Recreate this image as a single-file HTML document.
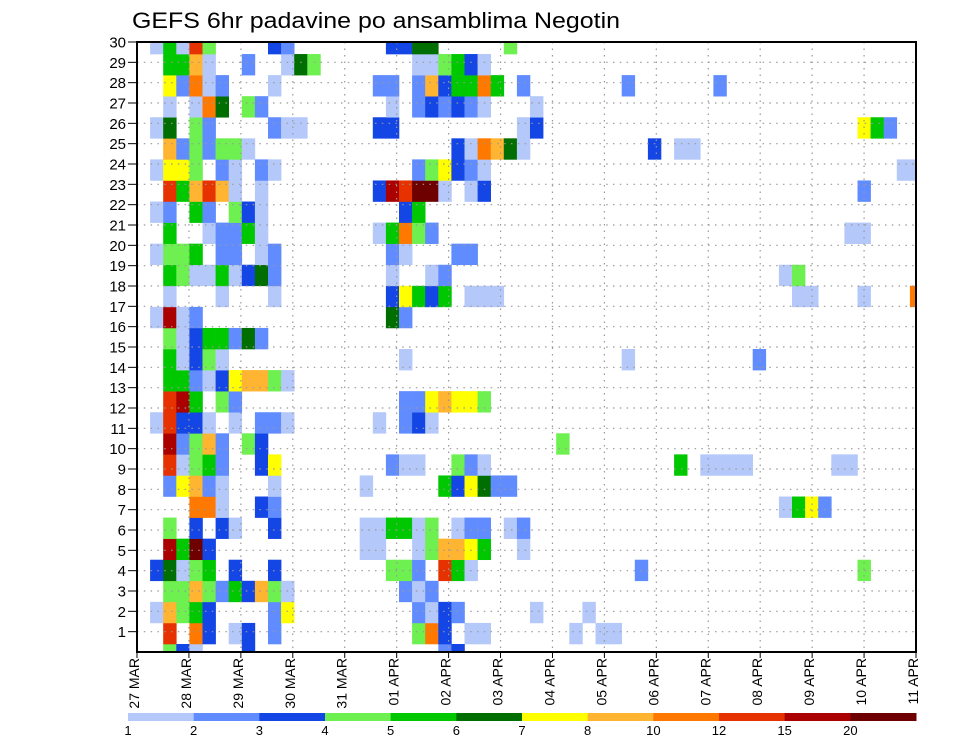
<!DOCTYPE html>
<html><head><meta charset="utf-8">
<style>
html,body{margin:0;padding:0;background:#fff;}
svg{display:block;}
text{font-family:"Liberation Sans",sans-serif;}
</style></head>
<body>
<svg id="chart" width="960" height="742" viewBox="0 0 960 742" xmlns="http://www.w3.org/2000/svg">
<text x="132" y="28" font-size="22" textLength="488" lengthAdjust="spacingAndGlyphs" fill="#000">GEFS 6hr padavine po ansamblima Negotin</text>
<g id="cells"></g>
<g id="grid"></g>
<g id="axes"></g>
<g id="cbar"></g>
</svg>
<script>
// ---- data ----
// rows: index 0 = bottom strip, 29 = top strip; entries "timeStep:levelCode"
const memberRows = [
"2:d 3:c 4:a 8:c 23:b 24:c",
"2:j 4:i 5:c 7:a 8:c 10:b 21:d 22:i 23:c 25:a 26:a 33:a 35:a 36:a",
"1:a 2:h 3:d 4:e 5:c 10:b 11:g 21:b 22:a 23:c 24:b 30:a 34:a",
"2:d 3:d 4:h 5:d 6:b 7:e 8:c 9:h 10:d 11:a 20:b 21:a 22:b",
"1:c 2:f 3:a 4:d 5:e 7:c 10:c 19:d 20:d 21:b 23:j 24:e 25:a 38:b 55:d",
"2:k 3:e 4:l 5:c 17:a 18:a 21:a 22:d 23:h 24:h 25:g 26:e 29:a",
"2:d 4:c 6:c 7:a 10:c 17:a 18:a 19:e 20:e 21:a 22:d 24:a 25:b 26:b 28:a 29:b",
"4:i 5:i 6:a 9:c 10:b 49:a 50:e 51:g 52:b",
"2:b 3:g 4:h 5:b 6:a 10:a 17:a 23:e 24:c 25:g 26:f 27:b 28:b",
"2:j 3:a 4:d 5:e 6:b 9:c 10:g 19:b 20:a 21:a 24:d 25:b 26:a 41:e 43:a 44:a 45:a 46:a 53:a 54:a",
"2:k 3:b 4:d 5:h 6:b 8:d 9:c 32:d",
"1:a 2:j 3:c 4:c 5:a 7:a 9:b 10:b 11:a 18:a 20:b 21:c 22:a",
"2:j 3:k 4:e 6:d 7:b 20:b 21:b 22:g 23:h 24:g 25:g 26:d",
"2:e 3:e 4:b 5:a 6:c 7:g 8:h 9:h 10:d 11:a",
"2:e 3:a 4:c 5:d 6:a 20:a 37:a 47:b",
"2:d 3:a 4:c 5:e 6:e 7:b 8:f 9:b",
"1:a 2:k 3:a 4:b 19:f 20:b",
"2:a 6:a 10:a 19:c 20:g 21:e 22:c 23:e 25:a 26:a 27:a 50:a 51:a 55:a 59:i",
"2:e 3:d 4:a 5:a 6:e 7:a 8:c 9:f 10:b 19:a 22:a 23:b 49:a 50:d",
"1:a 2:d 3:d 4:e 6:b 7:b 9:a 10:b 19:b 20:a 24:b 25:b",
"2:e 5:a 6:b 7:b 8:e 9:a 18:a 19:e 20:i 21:d 22:b 54:a 55:a",
"1:a 2:b 4:e 5:b 7:d 8:c 9:a 20:c 21:e",
"2:j 3:e 4:h 5:j 6:h 7:a 9:a 18:c 19:k 20:j 21:l 22:l 23:a 25:a 26:c 55:b",
"1:a 2:g 3:g 4:d 6:b 7:a 9:b 10:a 21:b 22:d 23:g 24:c 25:b 26:a 58:a 59:a",
"2:h 3:b 4:d 5:b 6:d 7:d 8:a 24:c 25:a 26:i 27:h 28:f 29:a 39:c 41:a 42:a",
"1:a 2:f 4:d 5:b 10:b 11:a 12:a 18:c 19:c 29:a 30:c 55:g 56:e 57:b",
"2:a 4:a 5:i 6:f 8:d 9:b 19:a 21:b 22:c 23:b 24:c 25:b 26:a 30:a",
"2:g 3:b 4:i 5:a 6:b 10:a 18:b 19:b 21:b 22:h 23:c 24:e 25:e 26:i 27:e 29:b 37:b 44:b",
"2:e 3:e 4:h 5:a 8:b 11:a 12:f 13:d 21:a 22:a 23:d 24:e 25:c 26:a",
"1:a 2:e 3:a 4:j 5:d 10:c 11:b 19:c 20:c 21:f 22:f 28:d"
];
const levelCodes = ["a","b","c","d","e","f","g","h","i","j","k","l"];
const levelValues = [1.5, 2.5, 3.5, 4.5, 5.5, 6.5, 7.5, 9, 11, 13.5, 17.5, 25];
const colorBounds = [1, 2, 3, 4, 5, 6, 7, 8, 10, 12, 15, 20];
const colorBarLabels = ["1","2","3","4","5","6","7","8","10","12","15","20"];
const colorFills = ["#b4c8fa","#608cff","#1446e6","#6ef050","#00c800","#006e00","#ffff00","#ffb432","#ff7800","#e63200","#aa0000","#6e0000"];
const yTickLabels = ["1","2","3","4","5","6","7","8","9","10","11","12","13","14","15","16","17","18","19","20","21","22","23","24","25","26","27","28","29","30"];
const dayLabels = ["27 MAR","28 MAR","29 MAR","30 MAR","31 MAR","01 APR","02 APR","03 APR","04 APR","05 APR","06 APR","07 APR","08 APR","09 APR","10 APR","11 APR"];

// ---- geometry ----
const NS = "http://www.w3.org/2000/svg";
const X0 = 137, X1 = 916, Y0 = 42, Y1 = 652;
const tickDx = (X1 - X0) / 15;
const tickDy = (Y1 - Y0) / 30;
const cellW = 13.1, cellH = 21.07;
function xDay(d){ return X0 + d * tickDx; }
function yTick(r){ return Y1 - r * tickDy; }
function cellX(c){ return X0 + c * cellW; }
function cellTop(s){ return 644 - cellH * s; }
function colorFor(v){
  let idx = -1;
  for (let i = 0; i < colorBounds.length; i++) if (v >= colorBounds[i]) idx = i;
  return idx < 0 ? null : colorFills[idx];
}
function mk(tag, attrs){ const e = document.createElementNS(NS, tag); for (const k in attrs) e.setAttribute(k, attrs[k]); return e; }

const svg = document.getElementById("chart");
const defs = mk("defs", {});
const cp = mk("clipPath", {id:"plotclip"});
cp.appendChild(mk("rect", {x:X0, y:Y0, width:X1-X0, height:Y1-Y0}));
defs.appendChild(cp); svg.insertBefore(defs, svg.firstChild);

// cells
const gCells = document.getElementById("cells");
gCells.setAttribute("clip-path", "url(#plotclip)");
memberRows.forEach((row, s) => {
  row.split(" ").forEach(ent => {
    if (!ent) return;
    const parts = ent.split(":");
    const c = parseInt(parts[0], 10);
    const li = levelCodes.indexOf(parts[1]);
    if (li < 0) return;
    const v = levelValues[li];
    const fill = colorFor(v);
    if (!fill) return;
    const r = mk("rect", {x:cellX(c).toFixed(2), y:cellTop(s).toFixed(2), width:cellW+0.3, height:cellH+0.3, fill:fill});
    
    
    gCells.appendChild(r);
  });
});

// grid
const gGrid = document.getElementById("grid");
for (let r = 1; r < 30; r++) {
  const l = mk("line", {x1:X0, x2:X1, y1:yTick(r), y2:yTick(r), stroke:"#999", "stroke-width":1.2, "stroke-dasharray":"1.5 5.3"});
  
  
  gGrid.appendChild(l);
}
for (let d = 1; d < 15; d++) {
  const l = mk("line", {x1:xDay(d), x2:xDay(d), y1:Y0, y2:Y1, stroke:"#999", "stroke-width":1.2, "stroke-dasharray":"1.5 5"});
  
  
  gGrid.appendChild(l);
}

// axes
const gAx = document.getElementById("axes");
const frame = mk("rect", {x:X0, y:Y0, width:X1-X0, height:Y1-Y0, fill:"none", stroke:"#000", "stroke-width":2});


gAx.appendChild(frame);
yTickLabels.forEach((lab, i) => {
  const r = i + 1, y = yTick(r);
  const t = mk("line", {x1:X0-9, x2:X0, y1:y, y2:y, stroke:"#000", "stroke-width":1});
  
  
  gAx.appendChild(t);
  const tx = mk("text", {x:X0-11, y:y+5.5, "font-size":15, "text-anchor":"end", fill:"#000"});
  tx.textContent = lab;
  
  
  gAx.appendChild(tx);
});
dayLabels.forEach((lab, d) => {
  const x = xDay(d);
  const t = mk("line", {x1:x, x2:x, y1:Y1, y2:Y1+6, stroke:"#000", "stroke-width":1});
  
  
  gAx.appendChild(t);
  const tx = mk("text", {x:0, y:0, "font-size":14, "text-anchor":"end", fill:"#000", transform:"translate(" + (x+2) + "," + (Y1+6) + ") rotate(-90)"});
  tx.textContent = lab;
  
  
  gAx.appendChild(tx);
});

// colorbar
const gC = document.getElementById("cbar");
const CB0 = 128, CB1 = 916, segW = (CB1 - CB0) / colorFills.length;
colorFills.forEach((f, i) => {
  const r = mk("rect", {x:CB0 + i*segW, y:713, width:segW+0.5, height:8, fill:f});
  
  
  gC.appendChild(r);
});
colorBarLabels.forEach((lab, i) => {
  const tx = mk("text", {x:CB0 + i*segW, y:735, "font-size":13, "text-anchor":"middle", fill:"#000"});
  tx.textContent = lab;
  
  
  gC.appendChild(tx);
});
</script>
</body></html>
